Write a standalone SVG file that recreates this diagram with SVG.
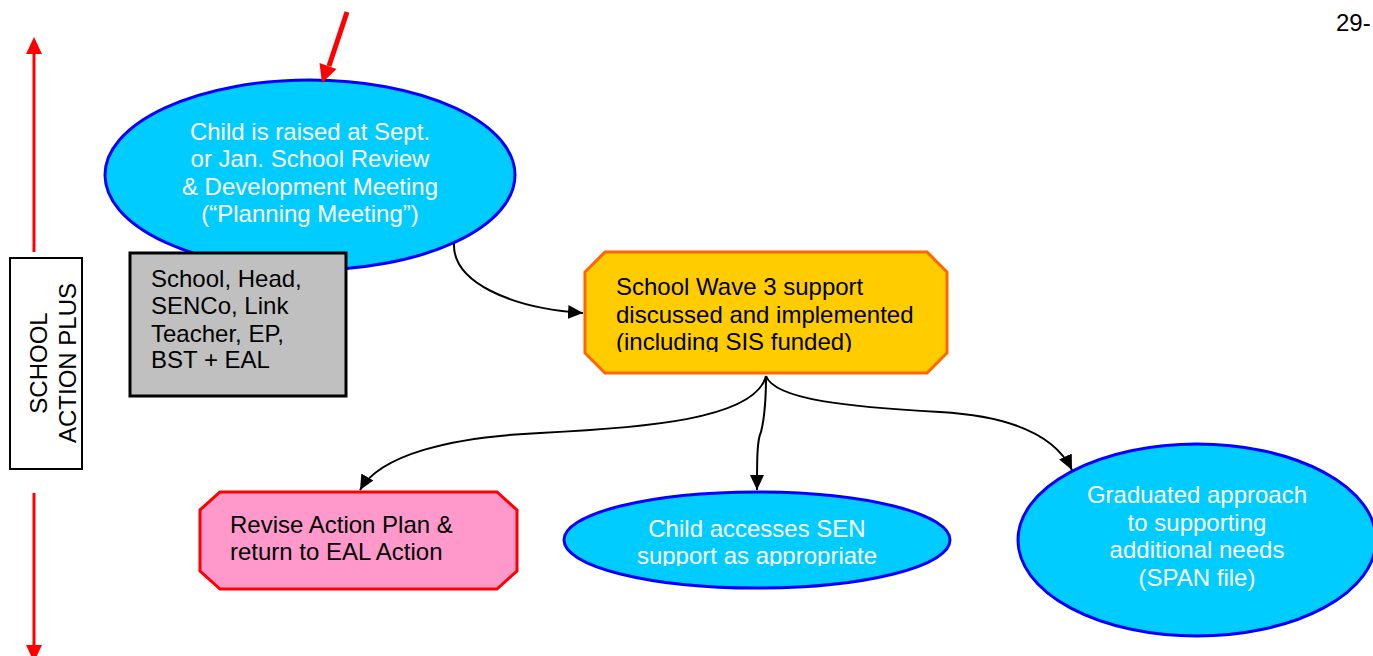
<svg xmlns="http://www.w3.org/2000/svg" width="1373" height="656" viewBox="0 0 1373 656">
<style>
text{font-family:"Liberation Sans",Arial,sans-serif;font-size:24px}
.w{fill:#ffffff}
.k{fill:#000000}
.c{text-anchor:middle}
.ell{fill:#00CCFF;stroke:#0000FF;stroke-width:3}
.conn{fill:none;stroke:#000;stroke-width:2}
.red{stroke:#FF0000;fill:none}
</style>
<defs>
<marker id="ah" markerUnits="userSpaceOnUse" markerWidth="16" markerHeight="14" refX="15" refY="7" orient="auto">
<path d="M0,0 L15,7 L0,14 z" fill="#000"/>
</marker>
<clipPath id="clipO"><rect x="585" y="252" width="362" height="100"/></clipPath>
<clipPath id="clipS"><rect x="560" y="490" width="400" height="76"/></clipPath>
</defs>
<rect width="1373" height="656" fill="#fff"/>

<g id="page-number"><text x="1336" y="31" class="k">29-</text></g>

<g id="side-label">
<line x1="34" y1="252" x2="34" y2="52" class="red" stroke-width="3"/>
<polygon points="34,37 26,54 42,54" fill="#FF0000"/>
<line x1="34" y1="493" x2="34" y2="647" class="red" stroke-width="3"/>
<polygon points="26,645 42,645 34,662" fill="#FF0000"/>
<rect x="10" y="258" width="72" height="211" fill="#fff" stroke="#000" stroke-width="2"/>
<text transform="translate(47,363) rotate(-90)" class="k c">SCHOOL</text>
<text transform="translate(76,363) rotate(-90)" class="k c">ACTION PLUS</text>
</g>

<g id="planning-meeting">
<ellipse cx="310" cy="175" rx="205" ry="95" class="ell"/>
<text class="w c" x="310" y="140">Child is raised at Sept.</text>
<text class="w c" x="310" y="167">or Jan. School Review</text>
<text class="w c" x="310" y="195">&amp; Development Meeting</text>
<text class="w c" x="310" y="222">(“Planning Meeting”)</text>
</g>

<g id="attendees">
<rect x="130" y="253" width="216" height="143" fill="#C0C0C0" stroke="#000" stroke-width="3"/>
<text class="k" x="151" y="287">School, Head,</text>
<text class="k" x="151" y="314">SENCo, Link</text>
<text class="k" x="151" y="342">Teacher, EP,</text>
<text class="k" x="151" y="368">BST + EAL</text>
</g>

<g id="wave3">
<polygon points="605,252 927,252 947,272 947,353 927,373 605,373 585,353 585,272" fill="#FFCC00" stroke="#FF6600" stroke-width="3"/>
<text class="k" x="616" y="295">School Wave 3 support</text>
<text class="k" x="616" y="323">discussed and implemented</text>
<text class="k" x="616" y="350" clip-path="url(#clipO)">(including SIS funded)</text>
</g>

<g id="revise-plan">
<polygon points="220,492 497,492 517,510 517,571 497,589 220,589 200,571 200,510" fill="#FF99CC" stroke="#FF0000" stroke-width="3"/>
<text class="k" x="230" y="533">Revise Action Plan &amp;</text>
<text class="k" x="230" y="560">return to EAL Action</text>
</g>

<g id="sen-support">
<ellipse cx="757" cy="540" rx="193" ry="48" class="ell"/>
<text class="w c" x="757" y="537">Child accesses SEN</text>
<text class="w c" x="757" y="564" clip-path="url(#clipS)">support as appropriate</text>
</g>

<g id="graduated">
<ellipse cx="1197" cy="540" rx="179" ry="96" class="ell"/>
<text class="w c" x="1197" y="503">Graduated approach</text>
<text class="w c" x="1197" y="531">to supporting</text>
<text class="w c" x="1197" y="558">additional needs</text>
<text class="w c" x="1197" y="586">(SPAN file)</text>
</g>

<g id="connectors">
<line x1="347" y1="12" x2="329" y2="66" stroke="#FF0000" stroke-width="5"/>
<polygon points="322,83 319.5,63 336.5,69" fill="#FF0000"/>
<path class="conn" d="M454,243 C452,282 510,308 583,313" marker-end="url(#ah)"/>
<path class="conn" d="M766,376 C755,420 640,428 540,433 C450,437 380,455 360,490" marker-end="url(#ah)"/>
<path class="conn" d="M766,376 C766,400 764,420 761,432 C757,440 757,460 757,490" marker-end="url(#ah)"/>
<path class="conn" d="M766,376 C775,400 850,407 940,412 C1010,416 1055,435 1072,470" marker-end="url(#ah)"/>
</g>
</svg>
